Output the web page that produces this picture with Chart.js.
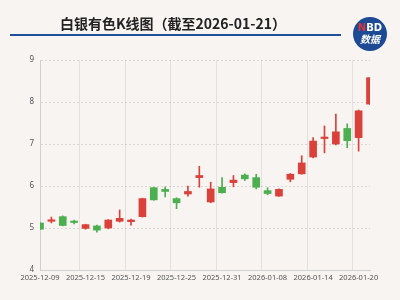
<!DOCTYPE html>
<html>
<head>
<meta charset="utf-8">
<script src="https://cdn.jsdelivr.net/npm/chart.js@4"></script>
<style>
  html, body { margin: 0; padding: 0; background: #f8f4f1; }
  #wrap { position: relative; width: 400px; height: 300px; font-family: 'Noto Sans CJK SC', 'Noto Sans', sans-serif; }
  #title { position: absolute; left: 0; width: 346px; top: 13px; text-align: center; font-size: 14px; font-weight: bold; color: #222; }
  #rule { position: absolute; left: 10px; top: 34px; width: 331px; height: 2px; background: #1f4e9a; }
  #logo { position: absolute; left: 353px; top: 17px; width: 34px; height: 34px; border-radius: 50%; background: #1d4a94; color: #fff; text-align: center; font-weight: bold; }
  #logo .a { font-size: 10px; line-height: 10px; margin-top: 6px; font-family: 'DejaVu Sans', sans-serif; }
  #logo .a span { color: #e0333a; }
  #logo .b { font-size: 10px; line-height: 12px; font-style: italic; }
  canvas { position: absolute; left: 0; top: 0; }
</style>
</head>
<body>
<div id="wrap">
  <canvas id="kline" width="400" height="300"></canvas>
  <div id="title">白银有色K线图（截至2026-01-21）</div>
  <div id="rule"></div>
  <div id="logo"><div class="a"><span>N</span>BD</div><div class="b">数据</div></div>
</div>
<script>
/* ===== Data ===== */
const dates = [
  '2025-12-09', '2025-12-10', '2025-12-11', '2025-12-12', '2025-12-15',
  '2025-12-16', '2025-12-17', '2025-12-18', '2025-12-19', '2025-12-22',
  '2025-12-23', '2025-12-24', '2025-12-25', '2025-12-26', '2025-12-29',
  '2025-12-30', '2025-12-31', '2026-01-05', '2026-01-06', '2026-01-07',
  '2026-01-08', '2026-01-09', '2026-01-12', '2026-01-13', '2026-01-14',
  '2026-01-15', '2026-01-16', '2026-01-19', '2026-01-20', '2026-01-21'
];
const opens  = [5.12, 5.16, 5.27, 5.16, 4.99, 5.05, 5.00, 5.16, 5.15, 5.27,
                5.96, 5.92, 5.70, 5.81, 6.20, 5.62, 5.97, 6.08, 6.26, 6.20,
                5.89, 5.76, 6.16, 6.29, 6.69, 7.13, 7.00, 7.37, 7.15, 7.95];
const closes = [4.97, 5.19, 5.06, 5.13, 5.08, 4.95, 5.19, 5.23, 5.19, 5.70,
                5.67, 5.87, 5.60, 5.87, 6.25, 5.93, 5.84, 6.14, 6.17, 5.97,
                5.82, 5.92, 6.28, 6.55, 7.07, 7.16, 7.29, 7.08, 7.79, 8.58];
const highs  = [5.13, 5.26, 5.29, 5.19, 5.09, 5.07, 5.20, 5.43, 5.21, 5.71,
                5.97, 5.98, 5.72, 6.00, 6.47, 6.09, 6.20, 6.25, 6.29, 6.28,
                5.96, 5.93, 6.30, 6.72, 7.15, 7.43, 7.71, 7.48, 7.81, 8.58];
const lows   = [4.96, 5.12, 5.05, 5.10, 4.97, 4.90, 4.98, 5.14, 5.07, 5.26,
                5.66, 5.74, 5.46, 5.76, 5.97, 5.60, 5.83, 5.98, 6.13, 5.93,
                5.79, 5.75, 6.10, 6.28, 6.67, 6.79, 6.98, 6.91, 6.83, 7.94];

const UP = '#d9413a';
const DOWN = '#4caf50';
const candleColors = opens.map((o, i) => closes[i] >= o ? UP : DOWN);

const gridColor = 'rgba(0,0,0,0.12)';
const tickFont = { size: 7.5, family: "'Noto Sans', sans-serif" };

new Chart(document.getElementById('kline'), {
    type: 'bar',
    data: {
        labels: dates,
        datasets: [
            { label: 'wick', data: dates.map((d, i) => [lows[i], highs[i]]),
              backgroundColor: candleColors, barThickness: 1, grouped: false },
            { label: 'body', data: dates.map((d, i) => [opens[i], closes[i]]),
              backgroundColor: candleColors, barThickness: 7, grouped: false, minBarLength: 1.5 }
        ]
    },
    options: {
        responsive: false,
        animation: false,
        layout: { padding: { top: 60, right: 30, bottom: 14, left: 0 } },
        plugins: { legend: { display: false }, tooltip: { enabled: false } },
        scales: {
            x: {
                offset: false,
                grid: { color: c => c.index % 4 === 0 ? 'rgba(0,0,0,0.08)' : 'transparent', drawTicks: false },
                border: { color: '#d0d0d0' },
                ticks: {
                    autoSkip: false, maxRotation: 0, padding: 3,
                    color: '#555', font: tickFont,
                    callback: (v, i) => i % 4 === 0 ? dates[i] : ''
                },
                afterFit: s => { s.height = 16; }
            },
            y: {
                min: 4, max: 9,
                grid: { color: gridColor, drawTicks: false },
                border: { color: '#d0d0d0', dash: [2, 2] },
                ticks: { stepSize: 1, padding: 6, color: '#555', font: { size: 8, family: "'Noto Sans', sans-serif" } },
                afterFit: s => { s.width = 40; }
            }
        }
    }
});
</script>
</body>
</html>
